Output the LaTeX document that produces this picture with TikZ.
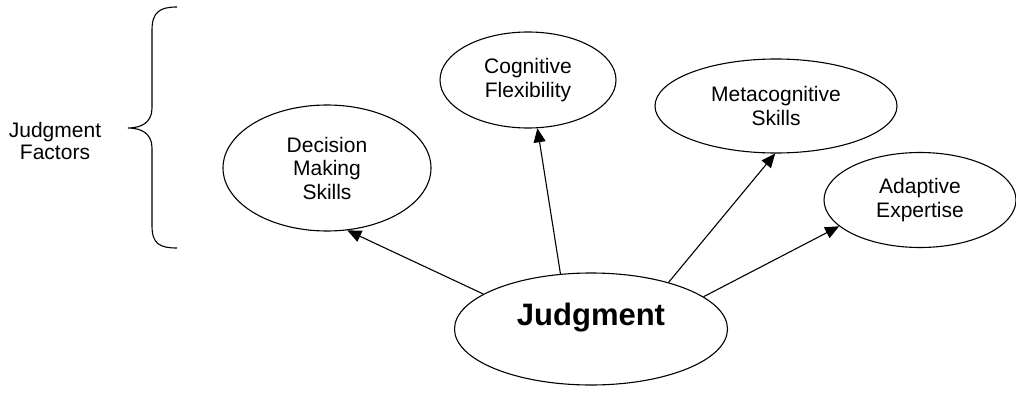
\documentclass[tikz,border=0pt]{standalone}
\usepackage{fontspec}
\setmainfont{Liberation Sans}
\usetikzlibrary{shapes.geometric,arrows.meta}

\begin{document}
\begin{tikzpicture}[x=1pt,y=-1pt,
  oval/.style={ellipse,draw,line width=1.1pt,inner sep=0pt,align=center,
    font=\fontsize{21}{23.5}\selectfont},
  link/.style={line width=1.1pt,-{Triangle[length=14pt,width=12pt]}},
  bracket/.style={line width=1.1pt},
  caption/.style={align=center,font=\fontsize{21}{22.5}\selectfont}
  ]
\useasboundingbox (0,0) rectangle (1016,393);

% factor ellipses
\node[oval,minimum width=208pt,minimum height=126pt] (dm) at (327,168) {Decision\\Making\\Skills};
\node[oval,minimum width=176pt,minimum height=96pt] (cf) at (528,80) {Cognitive\\Flexibility};
\node[oval,minimum width=242pt,minimum height=94pt] (ms) at (776,106) {Metacognitive\\Skills};
\node[oval,minimum width=192pt,minimum height=95pt] (ae) at (920,200) {Adaptive\\Expertise};

% central ellipse and its title
\node[ellipse,draw,line width=1.1pt,inner sep=0pt,minimum width=273pt,minimum height=112pt] (j) at (591,329) {};
\node[font=\fontsize{31}{34}\selectfont\bfseries] (jt) at (591,318) {Judgment};

% arrows from the centre out to each factor
\draw[link] (j.162) -- (dm.-72);
\draw[link] (j.119) -- (cf.-79);
\draw[link] (j.31) -- (ms.-91);
\draw[link] (j.16) -- (ae.198);

% brace grouping the factors
\draw[bracket] (177,7) .. controls (160,7) and (152,12) .. (152,30)
  -- (152,108) .. controls (152,122) and (142,128) .. (128,128)
  .. controls (142,128) and (152,134) .. (152,148)
  -- (152,226) .. controls (152,244) and (160,248) .. (177,248);
\node[caption] (jf) at (55,141) {Judgment\\Factors};
\end{tikzpicture}
\end{document}
